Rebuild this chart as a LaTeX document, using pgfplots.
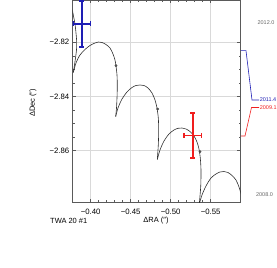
\documentclass[border=0pt]{standalone}
\usepackage{pgfplots}
\pgfplotsset{compat=1.18}
\usepackage{fontspec}
\setmainfont{Liberation Sans}
\definecolor{myblue}{RGB}{30,30,180}
\definecolor{myred}{RGB}{240,30,30}
\definecolor{curvegray}{RGB}{45,45,45}
\definecolor{framegray}{RGB}{90,90,90}
\begin{document}
\begin{tikzpicture}
\begin{axis}[
  at={(0,0)}, anchor=south west,
  scale only axis, width=168bp, height=202.3bp,
  x dir=reverse,
  xmin=-0.5875, xmax=-0.3775, ymin=-2.87904, ymax=-2.80439,
  xtick={-0.40,-0.45,-0.50,-0.55},
  xticklabels={−0.40,−0.45,−0.50,−0.55},
  ytick={-2.82,-2.84,-2.86},
  yticklabels={−2.82,−2.84,−2.86},
  minor x tick num=4, minor y tick num=3,
  grid=major, major grid style={draw=gray!30, line width=0.5pt},
  axis line style={framegray, line width=0.6pt},
  tick style={framegray, line width=0.5pt},
  major tick length=3.5bp, minor tick length=2bp,
  tick align=inside,
  ticklabel style={font=\fontsize{7.8}{8}\selectfont},
  xticklabel style={yshift=-3bp},
  label style={font=\fontsize{7.5}{8}\selectfont},
  xlabel={ΔRA (″)},
  ylabel={ΔDec (″)},
  xlabel style={at={(axis description cs:0.496,-0.091)}, anchor=center},
  ylabel style={at={(axis description cs:-0.236,0.491)}, anchor=center},
  unbounded coords=jump,
]
% parallax + proper motion path
\addplot[curvegray, line width=0.6pt, smooth, tension=0.5] coordinates {
(-0.376,-2.80624) (-0.37825,-2.80993) (-0.380375,-2.813247) (-0.381625,-2.816568)
(-0.3825,-2.81989) (-0.38225,-2.822841) (-0.381,-2.825793) (-0.37975,-2.828376)
(-0.37825,-2.831144)};
\addplot[curvegray, line width=0.6pt, smooth, tension=0.5] coordinates {
(-0.37825,-2.831144) (-0.381625,-2.827638) (-0.386625,-2.824686) (-0.392875,-2.822657)
(-0.399125,-2.821181) (-0.405375,-2.820258) (-0.40975,-2.819889) (-0.414125,-2.820074)
(-0.419125,-2.820812) (-0.424125,-2.822103) (-0.427875,-2.824317) (-0.430375,-2.826531)
(-0.431625,-2.828745) (-0.432875,-2.832066) (-0.43325,-2.836125) (-0.432875,-2.840553)
(-0.43225,-2.844243) (-0.43125,-2.84738)};
\addplot[curvegray, line width=0.6pt, smooth, tension=0.5] coordinates {
(-0.43125,-2.84738) (-0.434125,-2.844243) (-0.439125,-2.840922) (-0.445375,-2.838339)
(-0.451625,-2.836679) (-0.456625,-2.835941) (-0.461625,-2.835756) (-0.466625,-2.835941)
(-0.471625,-2.836863) (-0.476625,-2.838708) (-0.480375,-2.841291) (-0.482875,-2.844243)
(-0.4845,-2.847933) (-0.485,-2.852361) (-0.4845,-2.857896) (-0.48325,-2.863247)};
\addplot[curvegray, line width=0.6pt, smooth, tension=0.5] coordinates {
(-0.48325,-2.863247) (-0.486625,-2.859741) (-0.491625,-2.85642) (-0.497875,-2.853837)
(-0.504125,-2.852361) (-0.509125,-2.851734) (-0.514125,-2.851623) (-0.519125,-2.851992)
(-0.524125,-2.852915) (-0.529125,-2.854575) (-0.532875,-2.856789) (-0.535375,-2.859372)
(-0.537,-2.862693) (-0.537875,-2.867121) (-0.537625,-2.872656) (-0.536625,-2.876715)
(-0.53575,-2.879667)};
\addplot[curvegray, line width=0.6pt, smooth, tension=0.5] coordinates {
(-0.53575,-2.879667) (-0.539125,-2.876346) (-0.544125,-2.873025) (-0.550375,-2.870073)
(-0.556625,-2.868597) (-0.561625,-2.867859) (-0.566625,-2.867675) (-0.571625,-2.868044)
(-0.576625,-2.869151) (-0.581625,-2.870811) (-0.585375,-2.873394) (-0.587875,-2.875977)
(-0.589125,-2.878191)};
% epoch dots
\addplot[only marks, mark=*, mark size=1.2pt, draw=gray!60!black, fill=gray!60!black] coordinates {
(-0.431625,-2.828635) (-0.48375,-2.844612) (-0.536625,-2.860369)};
% measurement 2011.4 (blue): centre (-0.3888,-2.8132), err RA 0.0109, err Dec 0.0084
\addplot[draw=myblue, line width=1.8bp] coordinates {
(-0.3779,-2.8132) (-0.3997,-2.8132) (nan,nan)
(-0.3888,-2.8048) (-0.3888,-2.8216) (nan,nan)
(-0.3779,-2.81228) (-0.3779,-2.81412) (nan,nan)
(-0.3997,-2.81228) (-0.3997,-2.81412) (nan,nan)
(-0.3857,-2.8048) (-0.3919,-2.8048) (nan,nan)
(-0.3857,-2.8216) (-0.3919,-2.8216)};
% measurement 2009.1 (red): centre (-0.5277,-2.8544)
\addplot[draw=myred, line width=1.8bp] coordinates {
(-0.5168,-2.8544) (-0.5386,-2.8544) (nan,nan)
(-0.5277,-2.8460) (-0.5277,-2.8628) (nan,nan)
(-0.5168,-2.85348) (-0.5168,-2.85532) (nan,nan)
(-0.5386,-2.85348) (-0.5386,-2.85532) (nan,nan)
(-0.5246,-2.8460) (-0.5308,-2.8460) (nan,nan)
(-0.5246,-2.8628) (-0.5308,-2.8628)};
\end{axis}
% annotations outside the axis (timeline)
\draw[myblue, line width=0.6pt] (168.3bp,151.6bp) -- (173.3bp,151.6bp) -- (179.3bp,102.3bp) -- (186.3bp,102.3bp);
\draw[myred, line width=0.6pt] (168.3bp,66.3bp) -- (172.3bp,66.3bp) -- (178.8bp,94.8bp) -- (186.3bp,94.8bp);
\node[anchor=west, inner sep=0pt, text=myblue, font=\fontsize{5.5}{6}\selectfont] at (187bp,102.3bp) {2011.4};
\node[anchor=west, inner sep=0pt, text=myred, font=\fontsize{5.5}{6}\selectfont] at (187bp,94.8bp) {2009.1};
\node[inner sep=0pt, text=gray!80!black, font=\fontsize{5.5}{6}\selectfont] at (193.3bp,179.6bp) {2012.0};
\node[inner sep=0pt, text=gray!80!black, font=\fontsize{5.5}{6}\selectfont] at (191.8bp,7.3bp) {2008.0};
\node[anchor=west, inner sep=0pt, font=\fontsize{7.5}{8}\selectfont] at (-22.7bp,-18.7bp) {TWA 20 \#1};
\pgfresetboundingbox
\useasboundingbox (-72.7bp,-65.7bp) rectangle (204.3bp,202.3bp);
\end{tikzpicture}
\end{document}
